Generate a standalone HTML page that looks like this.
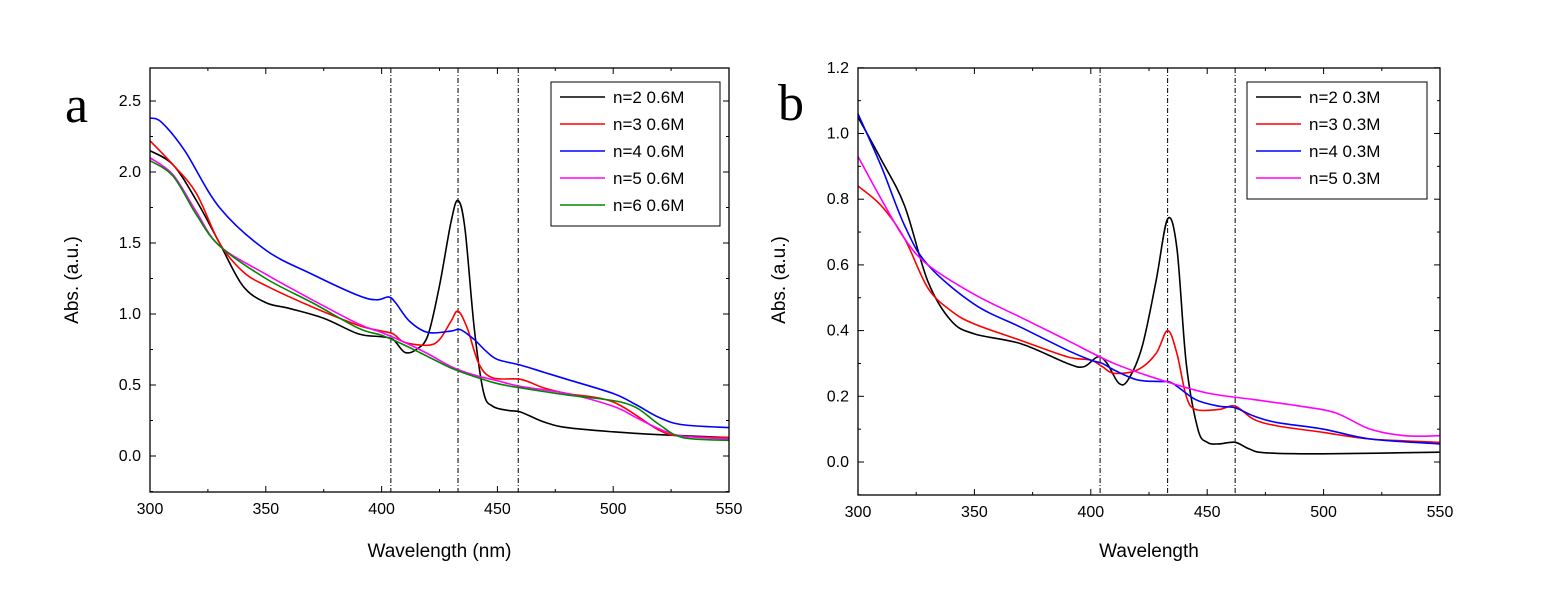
<!DOCTYPE html>
<html><head><meta charset="utf-8"><style>
body{margin:0;background:#fff}
svg text{font-family:"Liberation Sans",Arial,sans-serif}
</style></head><body>
<svg id="s" width="1562" height="598" xmlns="http://www.w3.org/2000/svg"></svg>
<script>
const S=document.getElementById('s');let h='';
function panel(o){
 const X=w=>o.x0+(w-300)/250*(o.x1-o.x0), Y=v=>o.y0-v*o.ky;
 o.vl.forEach(w=>{h+=`<line x1="${X(w)}" x2="${X(w)}" y1="${o.top}" y2="${o.bot}" stroke="#000" stroke-width="1" stroke-dasharray="5,2,1,2"/>`});
 o.ser.forEach(s=>{const p=s.d.map(a=>[X(a[0]),Y(a[1])]);let d=`M${p[0][0]},${p[0][1]}`;
  for(let i=0;i<p.length-1;i++){const a=p[i-1]||p[i],b=p[i],c=p[i+1],e=p[i+2]||c;
   d+=` C${b[0]+(c[0]-a[0])/6},${b[1]+(c[1]-a[1])/6} ${c[0]-(e[0]-b[0])/6},${c[1]-(e[1]-b[1])/6} ${c[0]},${c[1]}`}
  h+=`<path d="${d}" fill="none" stroke="${s.c}" stroke-width="1.6"/>`});
 h+=`<rect x="${o.x0}" y="${o.top}" width="${o.x1-o.x0}" height="${o.bot-o.top}" fill="none" stroke="#000" stroke-width="1.3"/>`;
 for(let w=300;w<=550;w+=25){const x=X(w),L=w%50==0?6:3;
  h+=`<line x1="${x}" x2="${x}" y1="${o.bot}" y2="${o.bot-L}" stroke="#000"/><line x1="${x}" x2="${x}" y1="${o.top}" y2="${o.top+L}" stroke="#000"/>`;
  if(w%50==0)h+=`<text x="${x}" y="${o.bot+22}" font-size="16" text-anchor="middle">${w}</text>`}
 for(let k=-10;k<=40;k++){const v=k*o.minor,y=Y(v);
  if(y<o.top-1||y>o.bot+1)continue;
  const maj=k%2==0,L=maj?6:3;
  h+=`<line x1="${o.x0}" x2="${o.x0+L}" y1="${y}" y2="${y}" stroke="#000"/><line x1="${o.x1}" x2="${o.x1-L}" y1="${y}" y2="${y}" stroke="#000"/>`;
  if(maj)h+=`<text x="${o.x0-9}" y="${y+5}" font-size="16" text-anchor="end">${v.toFixed(1)}</text>`}
 h+=`<text x="${(o.x0+o.x1)/2}" y="557" font-size="19" text-anchor="middle">${o.xl}</text>`;
 h+=`<text transform="translate(${o.ylx},280) rotate(-90)" font-size="19" text-anchor="middle">Abs. (a.u.)</text>`;
 h+=`<text x="${o.lx}" y="${o.ly}" font-size="52" style="font-family:'Liberation Serif',serif">${o.lab}</text>`;
 const lg=o.lg;h+=`<rect x="${lg.x}" y="82" width="${lg.w}" height="${o.ser.length*27+9}" fill="#fff" stroke="#000"/>`;
 o.ser.forEach((s,i)=>{const y=97+i*27;h+=`<line x1="${lg.x+9}" x2="${lg.x+54}" y1="${y}" y2="${y}" stroke="${s.c}" stroke-width="1.6"/><text x="${lg.x+62}" y="${y+6}" font-size="17">${s.n}</text>`});
}
panel({x0:150,x1:729,top:68,bot:492,y0:456,ky:142,minor:0.25,vl:[404,433,459],xl:"Wavelength (nm)",ylx:78,lab:"a",lx:65,ly:122,lg:{x:551,w:169},
 ser:[
 {c:"#000",n:"n=2 0.6M",d:[[300,2.15],[310,2.05],[320,1.8],[330,1.5],[340,1.2],[350,1.08],[360,1.04],[375,0.97],[390,0.86],[400,0.84],[405,0.82],[410,0.73],[415,0.75],[420,0.85],[425,1.2],[430,1.65],[433,1.8],[436,1.6],[440,0.9],[444,0.45],[448,0.35],[455,0.32],[460,0.31],[470,0.24],[480,0.2],[500,0.17],[520,0.15],[550,0.13]]},
 {c:"#f00",n:"n=3 0.6M",d:[[300,2.22],[310,2.05],[320,1.85],[330,1.5],[340,1.3],[350,1.2],[370,1.05],[390,0.92],[400,0.88],[405,0.86],[410,0.8],[420,0.78],[425,0.82],[430,0.95],[433,1.02],[437,0.9],[442,0.65],[448,0.55],[460,0.54],[470,0.48],[480,0.44],[500,0.38],[520,0.18],[530,0.14],[550,0.13]]},
 {c:"#00f",n:"n=4 0.6M",d:[[300,2.38],[305,2.35],[315,2.15],[330,1.75],[350,1.45],[370,1.28],[390,1.13],[398,1.1],[403,1.12],[406,1.08],[412,0.95],[420,0.87],[430,0.88],[434,0.89],[440,0.82],[445,0.74],[450,0.68],[460,0.64],[470,0.59],[480,0.54],[500,0.44],[510,0.36],[520,0.27],[530,0.22],[550,0.2]]},
 {c:"#f0f",n:"n=5 0.6M",d:[[300,2.1],[310,1.98],[320,1.72],[330,1.48],[350,1.28],[370,1.1],[390,0.93],[400,0.87],[410,0.8],[420,0.72],[430,0.63],[440,0.57],[450,0.53],[460,0.49],[480,0.44],[500,0.35],[510,0.27],[520,0.19],[530,0.14],[550,0.12]]},
 {c:"#080",n:"n=6 0.6M",d:[[300,2.08],[310,1.97],[320,1.7],[330,1.48],[350,1.25],[370,1.08],[390,0.9],[400,0.85],[410,0.78],[420,0.7],[430,0.62],[440,0.56],[450,0.51],[460,0.48],[480,0.43],[500,0.39],[510,0.34],[520,0.22],[530,0.13],[550,0.11]]}]});
panel({x0:858,x1:1440,top:68,bot:495,y0:462,ky:328.5,minor:0.1,vl:[404,433,462],xl:"Wavelength",ylx:785,lab:"b",lx:778,ly:120,lg:{x:1247,w:180},
 ser:[
 {c:"#000",n:"n=2 0.3M",d:[[300,1.05],[310,0.92],[320,0.78],[330,0.55],[340,0.43],[350,0.39],[370,0.36],[390,0.3],[397,0.29],[403,0.32],[407,0.3],[412,0.24],[416,0.25],[422,0.35],[428,0.55],[433,0.74],[437,0.65],[441,0.3],[446,0.1],[450,0.06],[455,0.055],[462,0.06],[468,0.04],[475,0.028],[500,0.025],[550,0.03]]},
 {c:"#f00",n:"n=3 0.3M",d:[[300,0.84],[310,0.78],[320,0.68],[330,0.53],[340,0.46],[350,0.42],[370,0.37],[390,0.32],[400,0.31],[405,0.29],[410,0.27],[420,0.28],[428,0.33],[433,0.4],[437,0.33],[441,0.2],[445,0.16],[455,0.16],[462,0.17],[470,0.13],[480,0.11],[500,0.09],[520,0.07],[550,0.06]]},
 {c:"#00f",n:"n=4 0.3M",d:[[300,1.06],[310,0.9],[320,0.72],[330,0.6],[350,0.48],[370,0.41],[390,0.34],[400,0.31],[405,0.3],[410,0.28],[420,0.25],[430,0.245],[435,0.24],[445,0.19],[455,0.17],[462,0.165],[470,0.14],[480,0.12],[500,0.1],[520,0.07],[550,0.055]]},
 {c:"#f0f",n:"n=5 0.3M",d:[[300,0.93],[310,0.8],[320,0.68],[330,0.6],[350,0.51],[370,0.44],[390,0.37],[410,0.3],[430,0.25],[450,0.21],[470,0.19],[490,0.17],[505,0.15],[520,0.1],[535,0.08],[550,0.08]]}]});
S.innerHTML=h;
</script>
</body></html>
